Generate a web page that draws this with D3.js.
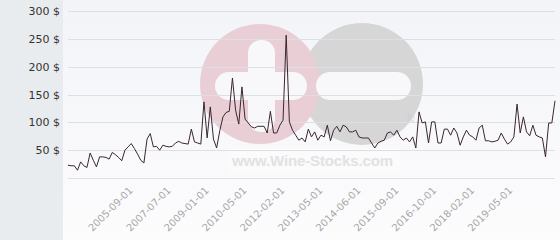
<!DOCTYPE html>
<html>
<head>
<meta charset="utf-8">
<script src="https://cdn.jsdelivr.net/npm/d3@7/dist/d3.min.js"></script>
<style>
  body { margin: 0; background: #fff; }
  svg { display: block; font-family: 'DejaVu Sans', sans-serif; }
</style>
</head>
<body>
<svg width="560" height="240"></svg>
<script>
  // monthly-ish price points
  const prices = [
    23, 22, 22, 14, 29, 22, 19, 45, 32, 20,
    38, 38, 37, 34, 46, 42, 37, 31, 50, 56,
    62, 53, 43, 32, 27, 70, 80, 56, 57, 50,
    59, 57, 56, 57, 63, 66, 63, 62, 61, 88,
    65, 63, 61, 137, 72, 128, 70, 54, 85, 110,
    118, 120, 180, 122, 97, 164, 106, 99, 92, 90,
    93, 93, 93, 81, 120, 81, 81, 95, 104, 257,
    101, 86, 77, 68, 72, 65, 88, 74, 83, 68,
    77, 74, 95, 67, 86, 93, 83, 95, 92, 83,
    83, 86, 74, 72, 72, 72, 63, 54, 63, 66,
    68, 81, 83, 77, 86, 74, 68, 72, 65, 74,
    54, 119, 99, 101, 63, 101, 101, 63, 63, 88,
    88, 77, 90, 81, 59, 74, 86, 77, 74, 68,
    90, 95, 67, 67, 65, 66, 68, 81, 70, 61,
    65, 74, 133, 81, 110, 83, 76, 95, 77, 74,
    72, 38, 99, 99, 139
  ];
  const tickLabels = [
    '2005-09-01', '2007-07-01', '2009-01-01', '2010-05-01', '2012-02-01',
    '2013-05-01', '2014-06-01', '2015-09-01', '2016-10-01', '2018-02-01',
    '2019-05-01'
  ];
  const firstTick = 19;
  const tickStep = 12;
  const yTicks = [0, 50, 100, 150, 200, 250, 300];

  const svg = d3.select('svg');
  const width = +svg.attr('width');
  const height = +svg.attr('height');

  const plotLeft = 68;
  const plotRight = 555;
  const yTop = 11.3;
  const yBottom = 178;

  const defs = svg.append('defs');
  const grad = defs.append('linearGradient')
    .attr('id', 'bg').attr('x1', 0).attr('y1', 0).attr('x2', 0).attr('y2', 1);
  grad.append('stop').attr('offset', '0%').attr('stop-color', '#f3f4f8');
  grad.append('stop').attr('offset', '100%').attr('stop-color', '#fcfcfd');

  // backgrounds
  svg.append('rect')
    .attr('width', width).attr('height', height)
    .attr('fill', 'url(#bg)');
  svg.append('rect')
    .attr('width', 63).attr('height', height)
    .attr('fill', '#e8ecef');

  // watermark
  const wm = svg.append('g').attr('class', 'watermark');
  wm.append('circle').attr('cx', 362).attr('cy', 84).attr('r', 61)
    .attr('fill', '#d6d6d6');
  wm.append('circle').attr('cx', 260).attr('cy', 84).attr('r', 60)
    .attr('fill', '#e9cfd5');
  wm.append('rect').attr('x', 316).attr('y', 72).attr('width', 95).attr('height', 28)
    .attr('rx', 14).attr('fill', '#f8f8fa');
  wm.append('rect').attr('x', 215).attr('y', 72).attr('width', 92).attr('height', 28)
    .attr('rx', 14).attr('fill', '#f8f8fa');
  wm.append('rect').attr('x', 248).attr('y', 40).attr('width', 27).attr('height', 92)
    .attr('rx', 13).attr('fill', '#f8f8fa');
  wm.append('rect').attr('x', 228).attr('y', 148).attr('width', 172).attr('height', 24)
    .attr('fill', '#fbfbfc');
  wm.append('text')
    .attr('x', 232).attr('y', 166)
    .attr('textLength', 161)
    .attr('font-family', 'Liberation Sans, Arial, sans-serif')
    .attr('font-weight', 'bold')
    .attr('font-size', 15)
    .attr('fill', '#e2e2e2')
    .text('www.Wine-Stocks.com');
  wm.append('text')
    .attr('x', 404).attr('y', 123)
    .attr('font-size', 12)
    .attr('fill', '#cfcfcf')
    .text('®');

  const xScale = d3.scaleLinear()
    .domain([0, prices.length - 1])
    .range([plotLeft, plotRight]);

  const yScale = d3.scaleLinear()
    .domain([0, 300])
    .range([yBottom, yTop]);

  // grid
  svg.append('g')
    .selectAll('line')
    .data(yTicks)
    .join('line')
      .attr('x1', plotLeft)
      .attr('x2', plotRight)
      .attr('y1', d => Math.round(yScale(d)) + 0.5)
      .attr('y2', d => Math.round(yScale(d)) + 0.5)
      .attr('stroke', '#dcdfe5')
      .attr('stroke-width', 1);

  // y axis labels
  const yAxis = d3.axisLeft(yScale)
    .tickValues(yTicks.filter(d => d > 0))
    .tickSize(0)
    .tickPadding(0)
    .tickFormat(d => d + ' $');

  const yAxisG = svg.append('g')
    .attr('transform', 'translate(60,0)')
    .call(yAxis);
  yAxisG.select('.domain').remove();
  yAxisG.selectAll('text')
    .attr('font-size', 11)
    .attr('font-family', 'DejaVu Sans, sans-serif')
    .attr('fill', '#333');

  // x axis labels
  const xTickIdx = tickLabels.map((_, i) => firstTick + i * tickStep);
  const xAxis = d3.axisBottom(xScale)
    .tickValues(xTickIdx)
    .tickSize(0)
    .tickFormat((d, i) => tickLabels[i]);

  const xAxisG = svg.append('g')
    .attr('transform', `translate(0,${yBottom + 8})`)
    .call(xAxis);
  xAxisG.select('.domain').remove();
  xAxisG.selectAll('text')
    .attr('font-size', 10)
    .attr('font-family', 'DejaVu Sans, sans-serif')
    .attr('fill', '#a8a8a8')
    .attr('y', 0)
    .attr('dy', '0.7em')
    .attr('text-anchor', 'end')
    .attr('transform', 'rotate(-45)');

  // price line
  const lineGenerator = d3.line()
    .x((d, i) => xScale(i))
    .y(d => yScale(d));

  svg.append('path')
    .attr('d', lineGenerator(prices))
    .attr('fill', 'none')
    .attr('stroke', '#3b2630')
    .attr('stroke-width', 1)
    .attr('stroke-linejoin', 'round');
</script>
</body>
</html>
